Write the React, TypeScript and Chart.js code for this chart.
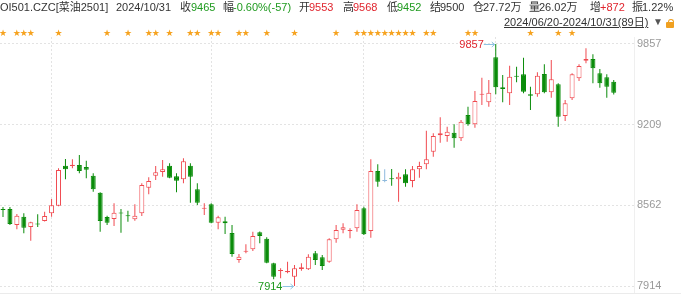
import React, { useEffect, useRef } from "react";
import { Chart, registerables } from "chart.js";
Chart.register(...registerables);

// OHLC of OI501.CZC, 2024/06/20 - 2024/10/31 (89 trading days)
const opens = [8526,8532,8404,8470,8388,8411,8436,8498,8559,8880,8877,8885,8869,8800,8663,8468,8452,8499,8477,8450,8498,8703,8800,8829,8880,8795,8771,8880,8690,8535,8570,8422,8434,8340,8123,8189,8209,8345,8294,8096,8034,8024,7989,8050,8048,8177,8144,8109,8289,8366,8356,8377,8538,8356,8837,8757,8779,8771,8811,8757,8851,8891,8992,9124,9118,9145,9100,9287,9212,9450,9389,9750,9509,9461,9600,9614,9453,9453,9616,9469,9533,9279,9421,9582,9723,9737,9622,9590,9553];
const highs = [8548,8548,8492,8498,8430,8490,8511,8612,8859,8934,8931,8966,8920,8819,8666,8478,8578,8532,8519,8570,8739,8787,8877,8926,8899,8819,8939,8899,8739,8578,8578,8478,8470,8404,8171,8249,8350,8352,8305,8101,8056,8109,8083,8096,8168,8195,8163,8297,8404,8417,8377,8570,8551,8931,8891,8851,8853,8824,8851,8877,8912,9161,9140,9268,9193,9212,9247,9354,9480,9586,9568,9857,9608,9683,9675,9747,9514,9630,9694,9729,9541,9407,9622,9694,9822,9774,9656,9614,9568];
const lows = [8468,8404,8369,8337,8278,8388,8432,8470,8554,8771,8859,8819,8779,8671,8350,8404,8396,8342,8430,8438,8476,8650,8765,8792,8779,8666,8739,8583,8564,8484,8417,8369,8331,8149,8101,8177,8195,8257,8096,7968,7976,8016,7914,8037,8042,8083,8042,8101,8262,8337,8297,8350,8323,8302,8711,8747,8719,8591,8711,8706,8784,8851,8952,9065,9073,9024,9078,9201,9185,9367,9354,9453,9389,9367,9549,9461,9327,9434,9461,9426,9193,9239,9407,9560,9702,9541,9506,9426,9452];
const closes = [8524,8412,8478,8382,8425,8408,8476,8562,8845,8851,8888,8837,8848,8690,8436,8422,8503,8497,8475,8478,8725,8757,8827,8851,8784,8759,8915,8792,8583,8540,8422,8466,8417,8171,8149,8197,8315,8315,8101,7989,8042,8034,8056,8064,8149,8123,8075,8289,8364,8385,8364,8524,8329,8837,8751,8757,8771,8792,8739,8851,8877,8931,9118,9140,9153,9100,9233,9212,9399,9456,9466,9509,9496,9594,9594,9474,9442,9602,9469,9574,9273,9381,9614,9680,9737,9662,9541,9514,9465];

// y-axis tick labels, month-start candle indices, event-star candle indices
const yTicks = [7914, 8562, 9209, 9857];
const monthStartIdx = [7, 30, 52, 71];
const starIdx = [0,2,3,4,8,15,18,21,22,24,27,28,30,31,34,35,38,42,48,51,52,53,54,55,56,57,58,59,61,62,67,68,76,80,82];

const RED = "#f04a50";
const GREEN = "#0a8c0a";
const FLAT = "#8db9dd";
const DARK = "#333333";
const HRED = "#e0252e";
const HGREEN = "#1f9a1f";

function candleColor(i: number) {
  if (closes[i] > opens[i]) return RED;
  if (closes[i] < opens[i]) return GREEN;
  return FLAT;
}

const overlayPlugin = {
  id: "overlay",
  afterDraw(chart: any) {
    const { ctx, chartArea } = chart;
    const x = chart.scales.x;
    const y = chart.scales.y;
    ctx.save();
    // bottom rule across the full width
    ctx.strokeStyle = "#ebebeb";
    ctx.lineWidth = 1;
    const by = Math.round(chartArea.bottom) + 0.5;
    ctx.beginPath();
    ctx.moveTo(0, by);
    ctx.lineTo(chart.width, by);
    ctx.stroke();
    // stars
    ctx.fillStyle = "#f6a21e";
    ctx.font = '9px "DejaVu Sans"';
    ctx.textAlign = "center";
    ctx.textBaseline = "middle";
    starIdx.forEach((i) => ctx.fillText("\u2605", x.getPixelForValue(i), 34));
    // max / min labels
    const maxH = Math.max(...highs);
    const minL = Math.min(...lows);
    const hiI = highs.indexOf(maxH);
    const loI = lows.indexOf(minL);
    const drawMark = (idx: number, val: number, color: string) => {
      const px = x.getPixelForValue(idx);
      const py = Math.round(y.getPixelForValue(val)) + 0.5;
      ctx.font = '11px "Liberation Sans"';
      ctx.textAlign = "right";
      ctx.textBaseline = "middle";
      ctx.fillStyle = color;
      ctx.fillText(String(val), px - 12, py + 0.5);
      ctx.strokeStyle = "#8fc3e3";
      ctx.lineWidth = 1;
      ctx.beginPath();
      ctx.moveTo(px - 12, py);
      ctx.lineTo(px - 1, py);
      ctx.moveTo(px - 4, py - 2.5);
      ctx.lineTo(px - 1, py);
      ctx.lineTo(px - 4, py + 2.5);
      ctx.stroke();
    };
    drawMark(hiI, maxH, HRED);
    drawMark(loI, minL, HGREEN);
    ctx.restore();
  },
};

const header1: [number, string, string][] = [
  [0, "OI501.CZC[菜油2501]", DARK],
  [116, "2024/10/31", DARK],
  [180, "收", DARK],
  [191, "9465", HGREEN],
  [223, "幅", DARK],
  [233, "-0.60%(-57)", HGREEN],
  [299, "开", DARK],
  [309, "9553", HRED],
  [343, "高", DARK],
  [353, "9568", HRED],
  [387, "低", DARK],
  [397, "9452", HGREEN],
  [430, "结", DARK],
  [440, "9500", DARK],
  [473, "仓", DARK],
  [483, "27.72万", DARK],
  [529, "量", DARK],
  [539, "26.02万", DARK],
  [590, "增", DARK],
  [600, "+872", HRED],
  [632, "振", DARK],
  [642, "1.22%", DARK],
];

export default function App() {
  const ref = useRef<HTMLCanvasElement | null>(null);
  useEffect(() => {
    if (!ref.current) return;
    const idx = opens.map((_, i) => i);
    const chart = new Chart(ref.current, {
      type: "bar",
      data: {
        datasets: [
          {
            label: "wick",
            data: idx.map((i) => ({ x: i, y: [lows[i], highs[i]] })) as any,
            backgroundColor: idx.map((i) => candleColor(i)),
            borderWidth: 0,
            barThickness: 1,
            grouped: false,
            order: 2,
            inflateAmount: 0,
            minBarLength: 1,
          } as any,
          {
            label: "body",
            data: idx.map((i) => ({ x: i, y: [opens[i], closes[i]] })) as any,
            backgroundColor: idx.map((i) => (closes[i] > opens[i] ? "#ffffff" : candleColor(i))),
            borderColor: idx.map((i) => candleColor(i)),
            borderWidth: 1,
            borderSkipped: false,
            barThickness: 5,
            grouped: false,
            order: 1,
            inflateAmount: 0,
            minBarLength: 1,
          } as any,
        ],
      },
      options: {
        animation: false,
        responsive: false,
        events: [],
        layout: { padding: { top: 37, bottom: 14, left: 0, right: 0 } },
        plugins: { legend: { display: false }, tooltip: { enabled: false } },
        scales: {
          x: {
            type: "linear",
            min: -0.432,
            max: 90.92,
            offset: false,
            afterBuildTicks: (s: any) => {
              s.ticks = monthStartIdx.map((v) => ({ value: v }));
            },
            afterFit: (s: any) => {
              s.height = 0;
            },
            ticks: { display: false },
            grid: { color: "#e3e3e3", drawTicks: false, offset: false },
            border: { display: true, color: "#ebebeb", dash: [2, 2] },
          },
          y: {
            type: "linear",
            position: "right",
            min: 7857.8,
            max: 9913.2,
            afterBuildTicks: (s: any) => {
              s.ticks = yTicks.map((v) => ({ value: v }));
            },
            afterFit: (s: any) => {
              s.width = 47;
            },
            ticks: {
              padding: 3,
              color: "#9a9a9a",
              font: { family: "Liberation Sans", size: 11 },
              callback: (v: any) => String(v),
            },
            grid: { color: "#e3e3e3", drawTicks: false },
            border: { display: true, color: "#efefef", dash: [2, 2] },
          },
        },
      } as any,
      plugins: [overlayPlugin],
    });
    return () => chart.destroy();
  }, []);

  const font = '"Liberation Sans", "Noto Sans CJK SC", sans-serif';
  return (
    <div
      style={{
        position: "absolute",
        left: 0,
        top: 0,
        width: 681,
        height: 307,
        overflow: "hidden",
        background: "#fff",
        fontFamily: font,
      }}
    >
      <canvas ref={ref} width={681} height={307} style={{ position: "absolute", left: 0, top: 0, width: 681, height: 307 }} />
      {header1.map(([left, text, color], k) => (
        <span
          key={k}
          style={{ position: "absolute", left, top: 0, fontSize: 11, lineHeight: "14px", color, whiteSpace: "nowrap" }}
        >
          {text}
        </span>
      ))}
      <span
        style={{
          position: "absolute",
          left: 504,
          top: 15,
          fontSize: 11,
          lineHeight: "14px",
          color: DARK,
          textDecoration: "underline",
          whiteSpace: "nowrap",
        }}
      >
        2024/06/20-2024/10/31(89日)
      </span>
      <span style={{ position: "absolute", left: 653, top: 15, fontSize: 10, lineHeight: "14px", color: "#555" }}>▼</span>
      <div
        style={{
          position: "absolute",
          left: 668,
          top: 19,
          width: 4,
          height: 4,
          border: "1.5px solid #f0a020",
          borderBottom: "none",
          borderRadius: "3px 3px 0 0",
        }}
      />
      <div style={{ position: "absolute", left: 666, top: 22, width: 8, height: 6, background: "#f0a020", borderRadius: 1 }} />
    </div>
  );
}
